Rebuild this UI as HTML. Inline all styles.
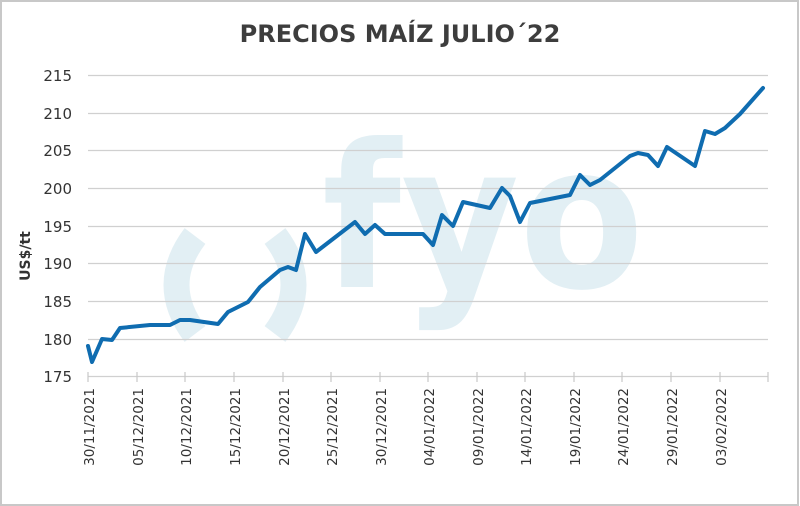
<!DOCTYPE html>
<html><head><meta charset="utf-8"><style>
html,body{margin:0;padding:0;background:#fff;}
svg{display:block;}
</style></head><body>
<svg width="800" height="506" viewBox="0 0 800 506" xmlns="http://www.w3.org/2000/svg" font-family="DejaVu Sans, Liberation Sans, sans-serif">
<rect x="0" y="0" width="800" height="506" fill="#fff"/>
<rect x="1" y="1" width="797" height="504" fill="none" stroke="#c8c8c8" stroke-width="2"/>
<text x="400" y="42" text-anchor="middle" font-size="24" font-weight="bold" fill="#3d3d3d">PRECIOS MAÍZ JULIO´22</text>
<!-- watermark -->
<text x="322" y="287" font-size="200" font-weight="bold" textLength="322" lengthAdjust="spacingAndGlyphs" fill="#e2eff4">fyo</text>
<path d="M195,236 Q158,285 195,334" fill="none" stroke="#e2eff4" stroke-width="26"/>
<path d="M275,236 Q312,285 275,334" fill="none" stroke="#e2eff4" stroke-width="26"/>
<!-- grid -->
<g stroke="#d0d0d0" stroke-width="1.2">
<line x1="88" y1="75.5" x2="768" y2="75.5"/>
<line x1="88" y1="113.5" x2="768" y2="113.5"/>
<line x1="88" y1="150.5" x2="768" y2="150.5"/>
<line x1="88" y1="188.5" x2="768" y2="188.5"/>
<line x1="88" y1="226.5" x2="768" y2="226.5"/>
<line x1="88" y1="263.5" x2="768" y2="263.5"/>
<line x1="88" y1="301.5" x2="768" y2="301.5"/>
<line x1="88" y1="339.5" x2="768" y2="339.5"/>
<line x1="88" y1="376.5" x2="768" y2="376.5"/>
</g>
<g stroke="#c8c8c8" stroke-width="1.2">
<line x1="88" y1="372" x2="88" y2="382"/><line x1="137" y1="372" x2="137" y2="382"/><line x1="185" y1="372" x2="185" y2="382"/><line x1="234" y1="372" x2="234" y2="382"/><line x1="283" y1="372" x2="283" y2="382"/><line x1="331" y1="372" x2="331" y2="382"/><line x1="380" y1="372" x2="380" y2="382"/><line x1="428" y1="372" x2="428" y2="382"/><line x1="477" y1="372" x2="477" y2="382"/><line x1="525" y1="372" x2="525" y2="382"/><line x1="574" y1="372" x2="574" y2="382"/><line x1="622" y1="372" x2="622" y2="382"/><line x1="671" y1="372" x2="671" y2="382"/><line x1="720" y1="372" x2="720" y2="382"/><line x1="768" y1="372" x2="768" y2="382"/>
</g>
<g font-size="15" fill="#333" text-anchor="end">
<text x="72" y="81">215</text><text x="72" y="119">210</text><text x="72" y="156">205</text><text x="72" y="194">200</text><text x="72" y="232">195</text><text x="72" y="269">190</text><text x="72" y="307">185</text><text x="72" y="345">180</text><text x="72" y="382">175</text>
</g>
<text transform="translate(30,256) rotate(-90)" text-anchor="middle" font-size="14" font-weight="bold" fill="#333">US$/tt</text>
<g font-size="13.5" fill="#333" text-anchor="end">
<text transform="translate(94,388) rotate(-90)">30/11/2021</text>
<text transform="translate(143,388) rotate(-90)">05/12/2021</text>
<text transform="translate(191,388) rotate(-90)">10/12/2021</text>
<text transform="translate(240,388) rotate(-90)">15/12/2021</text>
<text transform="translate(289,388) rotate(-90)">20/12/2021</text>
<text transform="translate(337,388) rotate(-90)">25/12/2021</text>
<text transform="translate(386,388) rotate(-90)">30/12/2021</text>
<text transform="translate(434,388) rotate(-90)">04/01/2022</text>
<text transform="translate(483,388) rotate(-90)">09/01/2022</text>
<text transform="translate(531,388) rotate(-90)">14/01/2022</text>
<text transform="translate(580,388) rotate(-90)">19/01/2022</text>
<text transform="translate(628,388) rotate(-90)">24/01/2022</text>
<text transform="translate(677,388) rotate(-90)">29/01/2022</text>
<text transform="translate(726,388) rotate(-90)">03/02/2022</text>
</g>
<polyline fill="none" stroke="#0f6cb0" stroke-width="4" stroke-linejoin="round" stroke-linecap="round" points="88,346 92,362 102,339 112,340 120,328 150,325 170,325 180,320 190,320 218,324 228,312 248,302 260,287 280,270 288,267 296,270 305,234 316,252 355,222 365,234 375,225 385,234 400,234 423,234 433,245 442,215 453,226 463,202 490,208 502,188 510,196 520,222 530,203 570,195 580,175 590,185 600,180 630,156 638,153 648,155 658,166 667,147 695,166 705,131 715,134 725,128 740,114 763,88"/>
</svg>
</body></html>
